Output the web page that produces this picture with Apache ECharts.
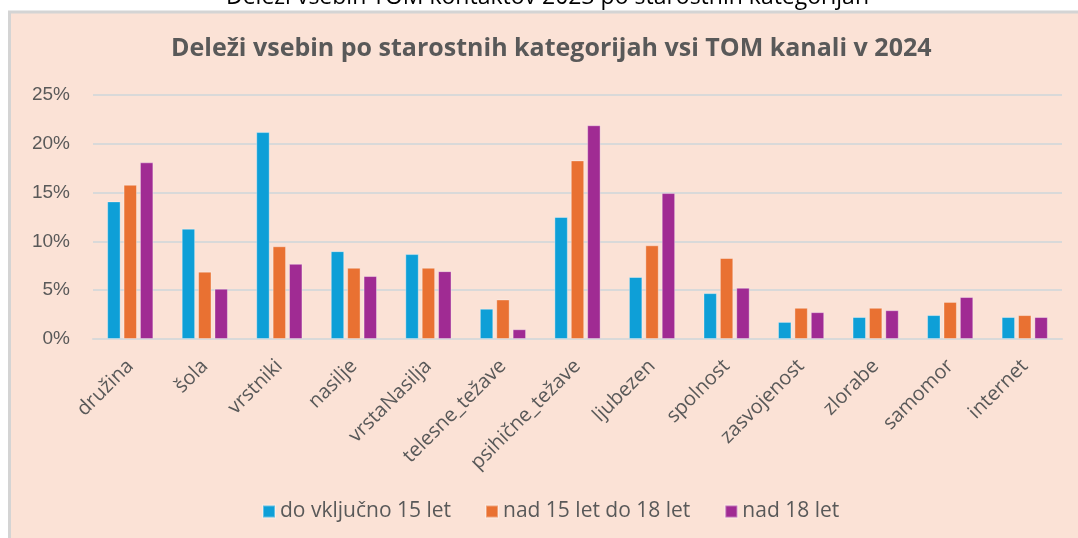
<!DOCTYPE html>
<html>
<head>
<meta charset="UTF-8">
<title>Deleži vsebin po starostnih kategorijah</title>
<script src="https://cdn.jsdelivr.net/npm/echarts@6/dist/echarts.min.js"></script>
<style>
    html, body { margin:0; padding:0; background:#fff; }
    #chart { width:1078px; height:538px; }
</style>
</head>
<body>
<div id="chart"></div>
<script>
// kategorije vsebin
var categories = ['družina', 'šola', 'vrstniki', 'nasilje', 'vrstaNasilja', 'telesne_težave',
    'psihične_težave', 'ljubezen', 'spolnost', 'zasvojenost', 'zlorabe', 'samomor', 'internet'];

// deleži v % (odčitano z grafa)
var do15   = [14.1, 11.3, 21.2, 9.0, 8.7, 3.1, 12.5, 6.35, 4.7, 1.75, 2.25, 2.45, 2.25];
var od15do18 = [15.8, 6.9, 9.5, 7.3, 7.3, 4.05, 18.3, 9.6, 8.3, 3.2, 3.2, 3.8, 2.45];
var nad18  = [18.1, 5.15, 7.7, 6.45, 6.95, 1.0, 21.9, 14.95, 5.25, 2.75, 2.95, 4.3, 2.25];

var seriesNames = ['do vključno 15 let', 'nad 15 let do 18 let', 'nad 18 let'];
var yTicks = [0, 5, 10, 15, 20, 25];

var myChart = echarts.init(document.getElementById('chart'));

var labelColor = '#595959';
var gridColor = '#d9d9d9';

var option = {
    backgroundColor: '#ffffff',
    animation: false,
    color: ['#0e9fd7', '#e97132', '#a02b93'],
    graphic: [
        {
            type: 'rect',
            z: -10,
            shape: { x: 9.5, y: 12, width: 1080, height: 540 },
            style: { fill: '#fbe2d6', stroke: '#d4d4d4', lineWidth: 3 }
        },
        {
            type: 'text',
            left: 226,
            top: -14,
            style: {
                text: 'Deleži vsebin TOM kontaktov 2023 po starostnih kategorijah',
                font: '23px "Open Sans", sans-serif',
                fill: '#000'
            }
        }
    ],
    title: {
        text: 'Deleži vsebin po starostnih kategorijah vsi TOM kanali v 2024',
        left: 166,
        top: 31,
        textStyle: {
            fontFamily: '"Open Sans", sans-serif',
            fontWeight: 'bold',
            fontSize: 25,
            color: labelColor
        }
    },
    legend: {
        data: seriesNames,
        bottom: 11,
        left: 257,
        icon: 'rect',
        itemWidth: 12,
        itemHeight: 12,
        itemGap: 34,
        textStyle: {
            fontFamily: '"Open Sans", sans-serif',
            fontSize: 21,
            color: labelColor
        }
    },
    grid: {
        left: 93,
        right: 16,
        top: 95,
        bottom: 199,
        containLabel: false
    },
    xAxis: {
        type: 'category',
        data: categories,
        axisTick: { show: false },
        axisLine: { lineStyle: { color: gridColor, width: 2 } },
        axisLabel: {
            rotate: 45,
            interval: 0,
            margin: 24,
            fontFamily: '"Open Sans", sans-serif',
            fontSize: 20,
            color: labelColor
        }
    },
    yAxis: {
        type: 'value',
        min: yTicks[0],
        max: yTicks[yTicks.length - 1],
        interval: 5,
        axisLine: { show: false },
        axisTick: { show: false },
        splitLine: { lineStyle: { color: gridColor, width: 2 } },
        axisLabel: {
            margin: 23,
            fontFamily: '"Liberation Sans", Arial, sans-serif',
            fontSize: 19,
            color: labelColor,
            formatter: '{value}%'
        }
    },
    series: [
        {
            name: seriesNames[0],
            type: 'bar',
            data: do15,
            barGap: '22%',
            barCategoryGap: '38%',
            itemStyle: { borderColor: 'rgba(255,255,255,0.35)', borderWidth: 1 }
        },
        {
            name: seriesNames[1],
            type: 'bar',
            data: od15do18,
            itemStyle: { borderColor: 'rgba(255,255,255,0.35)', borderWidth: 1 }
        },
        {
            name: seriesNames[2],
            type: 'bar',
            data: nad18,
            itemStyle: { borderColor: 'rgba(255,255,255,0.35)', borderWidth: 1 }
        }
    ]
};

option && myChart.setOption(option);
</script>
</body>
</html>
